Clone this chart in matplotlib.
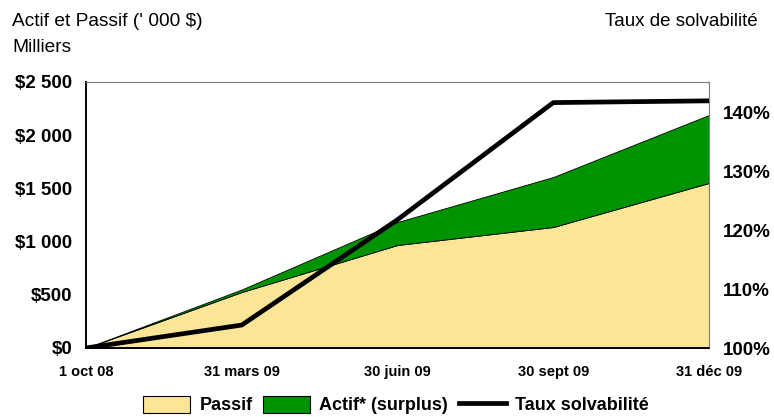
import matplotlib.pyplot as plt
from matplotlib.patches import Patch
from matplotlib.lines import Line2D

plt.rcParams["font.family"] = ["Liberation Sans", "DejaVu Sans"]

dates = ["1 oct 08", "31 mars 09", "30 juin 09", "30 sept 09", "31 déc 09"]
passif = [0, 526, 968, 1137, 1551]
actif = [0, 550, 1184, 1607, 2190]
taux = [100, 103.9, 121.8, 141.7, 142.0]

fig = plt.figure(figsize=(7.74, 4.17), dpi=100)
ax = fig.add_axes([86 / 774, 1 - 348 / 417, (709 - 86) / 774, (348 - 82) / 417])
x = list(range(len(dates)))

ax.fill_between(x, 0, passif, color="#fbe697", edgecolor="black", linewidth=0.6, zorder=2)
ax.fill_between(x, passif, actif, color="#009300", edgecolor="black", linewidth=0.6, zorder=2)
ax.set_xlim(0, len(dates) - 1)
ax.set_ylim(0, 2500)
ax.set_yticks([0, 500, 1000, 1500, 2000, 2500])
ax.set_yticklabels(["$0", "$500", "$1 000", "$1 500", "$2 000", "$2 500"],
                   fontsize=13.5, fontweight="bold")
ax.set_xticks(x)
ax.set_xticklabels(dates, fontsize=10.5, fontweight="bold")
ax.tick_params(axis="y", length=0, pad=10)
ax.tick_params(axis="x", length=0, pad=12)

ax2 = ax.twinx()
ax2.plot(x, taux, color="black", linewidth=3.4, zorder=5, solid_capstyle="butt")
ax2.set_ylim(100, 145.2)
ax2.set_yticks([100, 110, 120, 130, 140])
ax2.set_yticklabels(["100%", "110%", "120%", "130%", "140%"], fontsize=13.5, fontweight="bold")
ax2.tick_params(length=0, pad=10)

for a in (ax, ax2):
    for side in ("top", "right"):
        a.spines[side].set_color("#808080")
        a.spines[side].set_linewidth(0.8)
    a.spines["left"].set_linewidth(1.2)
    a.spines["bottom"].set_linewidth(1.2)

fig.text(12 / 774, 1 - 22 / 417, "Actif et Passif (' 000 $)", fontsize=13.8, va="center")
fig.text(12 / 774, 1 - 48 / 417, "Milliers", fontsize=13.8, va="center")
fig.text(758 / 774, 1 - 22 / 417, "Taux de solvabilité", fontsize=13.5, va="center", ha="right")

handles = [
    Patch(facecolor="#fbe697", edgecolor="black", linewidth=0.8),
    Patch(facecolor="#009300", edgecolor="black", linewidth=0.8),
    Line2D([0], [0], color="black", linewidth=3.4),
]
fig.legend(handles, ["Passif", "Actif* (surplus)", "Taux solvabilité"],
           loc="center", bbox_to_anchor=(396 / 774, 1 - 405 / 417), ncol=3, frameon=False,
           prop={"size": 13, "weight": "bold"}, handlelength=2.6, handleheight=1.1,
           columnspacing=0.6, handletextpad=0.5, borderaxespad=0, borderpad=0)

fig.savefig("out.png", dpi=100)
